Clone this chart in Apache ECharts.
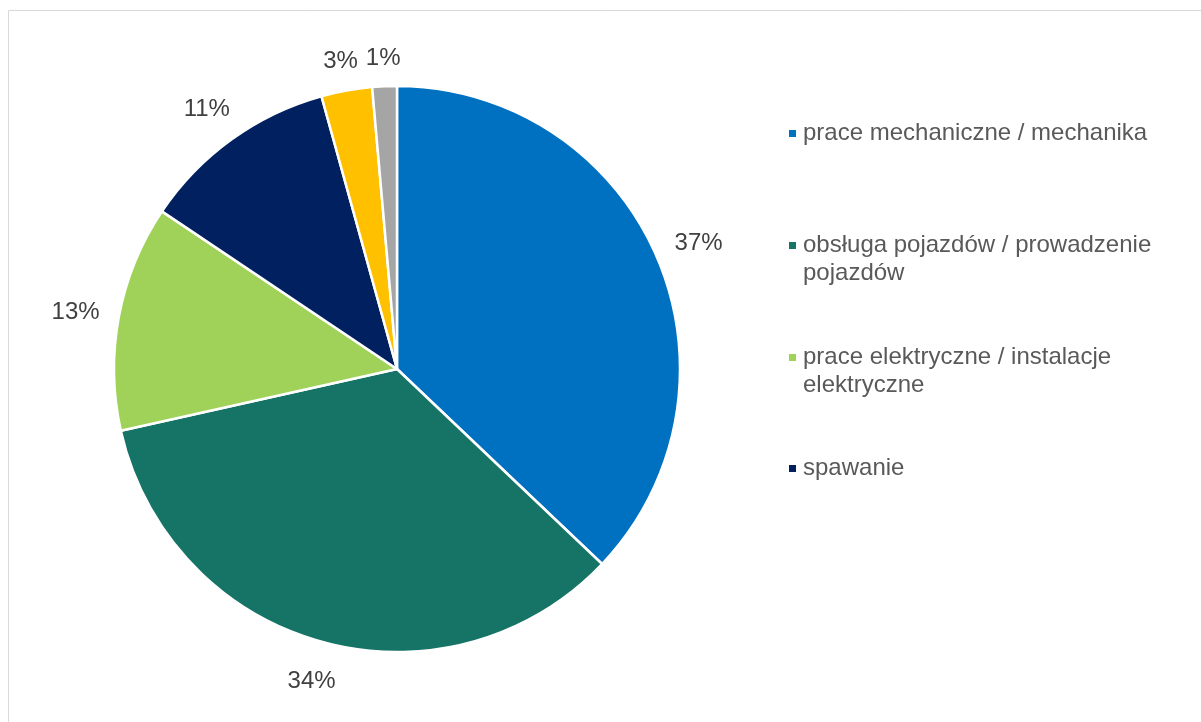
<!DOCTYPE html>
<html>
<head>
<meta charset="utf-8">
<script src="https://cdn.jsdelivr.net/npm/echarts@6/dist/echarts.min.js"></script>
<style>
html, body { margin: 0; padding: 0; background: #ffffff; }
#chart { width: 1201px; height: 722px; }
</style>
</head>
<body>
<div id="chart"></div>
<script>
// ---- data ----
const categories = [
  'prace mechaniczne / mechanika',
  'obsługa pojazdów / prowadzenie pojazdów',
  'prace elektryczne / instalacje elektryczne',
  'spawanie',
  'inne',
  'brak danych'
];
const values = [37.1, 34.4, 12.9, 11.3, 2.9, 1.4];
const sliceColors = ['#0070C0', '#157465', '#A0D25A', '#002060', '#FFC000', '#A5A5A5'];
// legend shows only the first four categories (as in the original)
const legendItems = categories.slice(0, 4);
// wrapped legend text lines
const legendLines = [
  ['prace mechaniczne / mechanika'],
  ['obsługa pojazdów / prowadzenie', 'pojazdów'],
  ['prace elektryczne / instalacje', 'elektryczne'],
  ['spawanie']
];

// ---- layout ----
const FONT = "'Liberation Sans', Arial, Helvetica, sans-serif";
const legendIconCenterY = [133.5, 245.5, 357.5, 468.5];
const LEGEND_LH = 28;

const legends = legendItems.map(function (name, i) {
  const lines = legendLines[i];
  const text = lines.length > 1 ? '\n' + lines.join('\n') : lines[0];
  const nLines = lines.length > 1 ? 3 : 1;
  return {
    data: [name],
    orient: 'vertical',
    left: 789,
    top: legendIconCenterY[i] - nLines * LEGEND_LH / 2,
    padding: 0,
    icon: 'rect',
    itemWidth: 7,
    itemHeight: 7,
    itemStyle: { borderWidth: 0 },
    selectedMode: false,
    formatter: function () { return text; },
    textStyle: {
      color: '#595959',
      fontSize: 24,
      fontFamily: FONT,
      lineHeight: LEGEND_LH,
      padding: [0, 0, 0, 2]
    }
  };
});

const chart = echarts.init(document.getElementById('chart'), null, { renderer: 'canvas' });
chart.setOption({
  animation: false,
  backgroundColor: '#ffffff',
  graphic: [{
    type: 'rect',
    silent: true,
    shape: { x: 8.5, y: 10.5, width: 1400, height: 900 },
    style: { fill: 'none', stroke: '#d9d9d9', lineWidth: 1 }
  }],
  legend: legends,
  series: [{
    type: 'pie',
    center: [397, 369],
    radius: 283,
    startAngle: 90,
    clockwise: true,
    avoidLabelOverlap: false,
    emphasis: { disabled: true },
    data: categories.map(function (c, i) {
      return { name: c, value: values[i], itemStyle: { color: sliceColors[i] } };
    }),
    itemStyle: { borderColor: '#ffffff', borderWidth: 2.5 },
    label: {
      show: true,
      position: 'outside',
      formatter: function (p) { return Math.round(p.value) + '%'; },
      color: '#404040',
      fontSize: 24,
      fontFamily: FONT,
      lineHeight: 26
    },
    labelLine: {
      show: true,
      length: 18,
      length2: 0,
      lineStyle: { opacity: 0, width: 0 }
    },
    labelLayout: function (p) {
      const pts = p.labelLinePoints;
      if (!pts) { return {}; }
      const dx = pts[1][0] - pts[0][0];
      const dy = pts[1][1] - pts[0][1];
      const len = Math.hypot(dx, dy) || 1;
      const ux = dx / len, uy = dy / len;
      const w = p.labelRect.width, h = p.labelRect.height;
      const ext = w / 2 * Math.abs(ux) + h / 2 * Math.abs(uy);
      return {
        x: pts[1][0] + ux * ext,
        y: pts[1][1] + uy * ext + 4,
        align: 'center',
        verticalAlign: 'middle'
      };
    }
  }]
});
</script>
</body>
</html>
